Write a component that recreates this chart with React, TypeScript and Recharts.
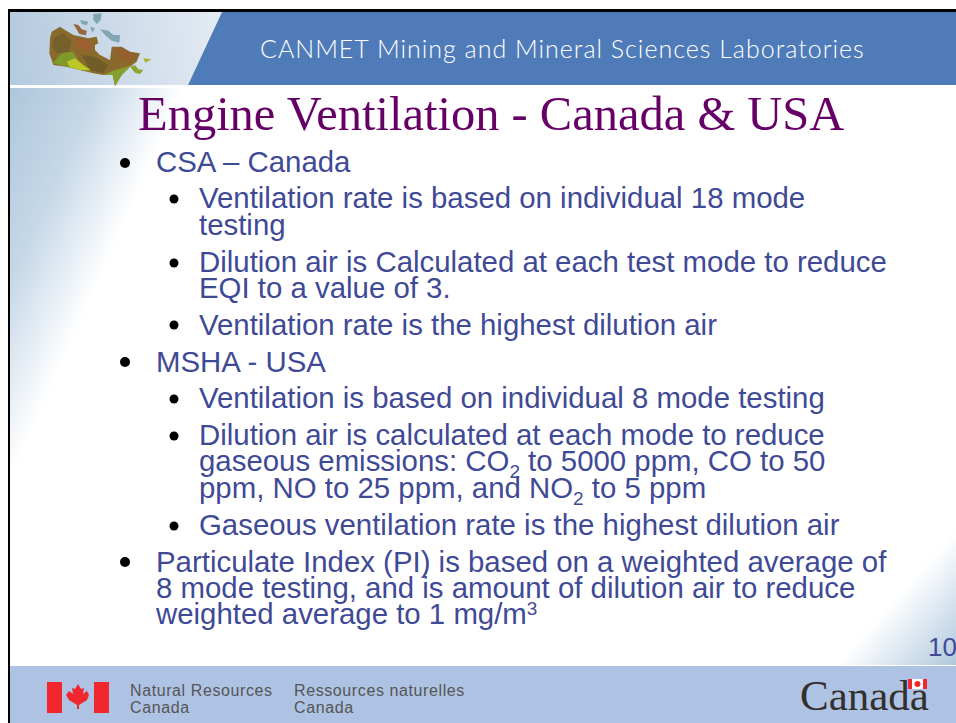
import { Dot, Polygon, Rectangle, Surface, Text } from "recharts";

const WIDTH = 956;
const HEIGHT = 723;

const HEADER_TITLE = "CANMET Mining and Mineral Sciences Laboratories";
const SLIDE_TITLE = "Engine Ventilation - Canada & USA";
const PAGE_NUMBER = "10";
const FOOTER_EN = ["Natural Resources", "Canada"];
const FOOTER_FR = ["Ressources naturelles", "Canada"];
const WORDMARK = "Canada";

type Run = { t: string; shift?: "sub" | "sup" };

const LEVEL_ONE = [
	{ bullet: 163, lines: [172], text: [[{ t: "CSA – Canada" }]] as Run[][] },
	{ bullet: 362, lines: [372], text: [[{ t: "MSHA - USA" }]] as Run[][] },
	{
		bullet: 562,
		lines: [572, 598, 624],
		text: [
			[{ t: "Particulate Index (PI) is based on a weighted average of" }],
			[{ t: "8 mode testing, and is amount of dilution air to reduce" }],
			[{ t: "weighted average to 1 mg/m" }, { t: "3", shift: "sup" }],
		] as Run[][],
	},
];

const LEVEL_TWO = [
	{
		bullet: 199,
		lines: [208, 235],
		text: [
			[{ t: "Ventilation rate is based on individual 18 mode" }],
			[{ t: "testing" }],
		] as Run[][],
	},
	{
		bullet: 263,
		lines: [272, 298],
		text: [
			[{ t: "Dilution air is Calculated at each test mode to reduce" }],
			[{ t: "EQI to a value of 3." }],
		] as Run[][],
	},
	{
		bullet: 325,
		lines: [335],
		text: [[{ t: "Ventilation rate is the highest dilution air" }]] as Run[][],
	},
	{
		bullet: 399,
		lines: [408],
		text: [[{ t: "Ventilation is based on individual 8 mode testing" }]] as Run[][],
	},
	{
		bullet: 436,
		lines: [445, 471, 498],
		text: [
			[{ t: "Dilution air is calculated at each mode to reduce" }],
			[
				{ t: "gaseous emissions: CO" },
				{ t: "2", shift: "sub" },
				{ t: " to 5000 ppm, CO to 50" },
			],
			[
				{ t: "ppm, NO to 25 ppm, and NO" },
				{ t: "2", shift: "sub" },
				{ t: " to 5 ppm" },
			],
		] as Run[][],
	},
	{
		bullet: 526,
		lines: [535],
		text: [[{ t: "Gaseous ventilation rate is the highest dilution air" }]] as Run[][],
	},
];

const pts = (list: number[][], k = 1, ox = 0, oy = 0) =>
	list.map(([x, y]) => ({ x: x * k + ox, y: y * k + oy }));
const mapPts = (list: number[][]) => pts(list, 1 / 3, 40, 10);

const MAP_MAIN = [
	[30, 85], [35, 65], [60, 50], [75, 60], [100, 75], [125, 80], [145, 85], [170, 80],
	[175, 100], [165, 105], [165, 120], [180, 135], [210, 150], [215, 110], [245, 110],
	[270, 125], [300, 130], [290, 155], [270, 170], [255, 185], [245, 195], [225, 228],
	[218, 195], [190, 195], [160, 190], [120, 180], [80, 170], [40, 165], [28, 130],
];
const MAP_DARK = [
	[40, 85], [70, 70], [95, 95], [85, 125], [50, 130], [36, 110],
];
const MAP_RUST = [
	[100, 85], [140, 90], [160, 100], [150, 120], [115, 115],
];
const MAP_RUST_EAST = [[220, 115], [245, 115], [290, 135], [270, 155], [235, 150]];
const MAP_DARK_SOUTH = [[125, 135], [165, 140], [205, 165], [190, 190], [150, 180]];
const MAP_GREEN = [
	[38, 160], [65, 130], [100, 125], [125, 170], [155, 185], [120, 180], [80, 170],
];
const MAP_LIME = [[80, 155], [105, 145], [130, 165], [152, 180], [120, 180], [90, 172]];
const MAP_ONTARIO = [
	[190, 195], [225, 180], [255, 172], [275, 165], [245, 195], [225, 228], [218, 195],
];
const MAP_BAFFIN = [[100, 42], [115, 45], [125, 58], [140, 62], [138, 76], [118, 72], [108, 55]];
const MAP_MARITIME = [[270, 170], [285, 165], [295, 178], [310, 180], [300, 192], [285, 188]];
const MAP_NEWFOUNDLAND = [[310, 145], [335, 148], [316, 158]];
const MAP_ARCTIC = [
	[[160, 12], [185, 10], [182, 30], [170, 42], [160, 30]],
	[[120, 30], [145, 35], [140, 46], [125, 42]],
	[[150, 50], [165, 55], [158, 68]],
	[[180, 58], [205, 62], [220, 75], [240, 75], [238, 98], [215, 92], [195, 75]],
];
const LEAF = [
	[78, 684], [81, 689], [84, 688], [83, 694], [87, 691], [89, 695], [87, 700],
	[79, 705], [79, 709], [77, 709], [77, 705], [69, 700], [66, 695], [69, 691],
	[73, 694], [72, 688], [75, 689],
];

const BODY = "#3f4a96";
const BODY_FONT = "'Liberation Sans', Arial, sans-serif";
const SERIF = "'Liberation Serif', 'Times New Roman', serif";

function Line({ x, y, runs }: { x: number; y: number; runs: Run[] }) {
	return (
		<text x={x} y={y} fill={BODY} fontFamily={BODY_FONT} fontSize={29.4} xmlSpace="preserve">
			{runs.map((r, i) => {
				if (!r.shift) {
					const prev = runs[i - 1]?.shift;
					const back = prev === "sub" ? -7 : prev === "sup" ? 9 : 0;
					return (
						<tspan key={i} dy={back}>
							{r.t}
						</tspan>
					);
				}
				return (
					<tspan key={i} fontSize={19} dy={r.shift === "sub" ? 7 : -9}>
						{r.t}
					</tspan>
				);
			})}
		</text>
	);
}

export default function App() {
	return (
		<div style={{ position: "absolute", left: 0, top: 0, width: WIDTH, height: HEIGHT, background: "#fff" }}>
			<Surface width={WIDTH} height={HEIGHT} viewBox={{ x: 0, y: 0, width: WIDTH, height: HEIGHT }}>
				<defs>
					<linearGradient id="leftFade" gradientUnits="userSpaceOnUse" x1={10} y1={88} x2={156} y2={153}>
						<stop offset="0" stopColor="#aec6dc" />
						<stop offset="0.5" stopColor="#c6d8e8" />
						<stop offset="1" stopColor="#ffffff" />
					</linearGradient>
					<linearGradient id="headFade" gradientUnits="userSpaceOnUse" x1={10} y1={60} x2={222} y2={30}>
						<stop offset="0" stopColor="#b4cadf" />
						<stop offset="1" stopColor="#e4ebf3" />
					</linearGradient>
					<linearGradient id="cornerFade" gradientUnits="userSpaceOnUse" x1={956} y1={665} x2={889} y2={605}>
						<stop offset="0" stopColor="#b0c8de" />
						<stop offset="1" stopColor="#ffffff" />
					</linearGradient>
				</defs>

				{/* slide frame and backgrounds */}
				<Rectangle x={8} y={9} width={948} height={714} fill="#000" />
				<Rectangle x={10} y={12} width={946} height={711} fill="#fff" />
				<Rectangle x={10} y={88} width={300} height={577} fill="url(#leftFade)" />
				<Rectangle x={700} y={450} width={256} height={215} fill="url(#cornerFade)" />
				<Polygon points={pts([[10, 12], [222, 12], [188, 85], [10, 85]])} fill="url(#headFade)" stroke="none" />
				<Polygon points={pts([[222, 12], [956, 12], [956, 85], [188, 85]])} fill="#4f7cb9" stroke="none" />
				<Rectangle x={10} y={85} width={946} height={3} fill="#fff" />

				{/* map of Canada */}
				<Polygon points={mapPts(MAP_MAIN)} fill="#8a6a2c" stroke="none" />
				<Polygon points={mapPts(MAP_DARK)} fill="#75602c" stroke="none" />
				<Polygon points={mapPts(MAP_RUST)} fill="#9c6030" stroke="none" />
				<Polygon points={mapPts(MAP_RUST_EAST)} fill="#94602e" stroke="none" />
				<Polygon points={mapPts(MAP_DARK_SOUTH)} fill="#6f5c28" stroke="none" />
				<Polygon points={mapPts(MAP_GREEN)} fill="#7f9a2a" stroke="none" />
				<Polygon points={mapPts(MAP_LIME)} fill="#bcc826" stroke="none" />
				<Polygon points={mapPts(MAP_ONTARIO)} fill="#86a02c" stroke="none" />
				<Polygon points={mapPts(MAP_BAFFIN)} fill="#96663a" stroke="none" />
				<Polygon points={mapPts(MAP_MARITIME)} fill="#8aa62c" stroke="none" />
				<Polygon points={mapPts(MAP_NEWFOUNDLAND)} fill="#a8b02e" stroke="none" />
				{MAP_ARCTIC.map((island, i) => (
					<Polygon key={i} points={mapPts(island)} fill="#7fa6b2" stroke="none" />
				))}

				<Text x={260} y={58} fill="#fff" fontFamily="Lato, sans-serif" fontWeight={300} fontSize={25} letterSpacing={1}>
					{HEADER_TITLE}
				</Text>
				<Text x={138} y={130} fill="#660066" fontFamily={SERIF} fontSize={48.5}>
					{SLIDE_TITLE}
				</Text>

				{LEVEL_ONE.map((item, i) => (
					<g key={i}>
						<Dot cx={125} cy={item.bullet} r={5} fill="#000" />
						{item.text.map((runs, j) => (
							<Line key={j} x={156} y={item.lines[j]} runs={runs} />
						))}
					</g>
				))}
				{LEVEL_TWO.map((item, i) => (
					<g key={i}>
						<Dot cx={174} cy={item.bullet} r={4.5} fill="#000" />
						{item.text.map((runs, j) => (
							<Line key={j} x={199} y={item.lines[j]} runs={runs} />
						))}
					</g>
				))}

				<Text x={928} y={656} fill={BODY} fontFamily={BODY_FONT} fontSize={26}>
					{PAGE_NUMBER}
				</Text>

				{/* footer */}
				<Rectangle x={10} y={666} width={946} height={57} fill="#aec3e3" />
				<Rectangle x={47} y={682} width={15} height={31} fill="#f0282e" />
				<Rectangle x={94} y={682} width={15} height={31} fill="#f0282e" />
				<Polygon points={pts(LEAF)} fill="#f0282e" stroke="none" />
				{FOOTER_EN.map((line, i) => (
					<Text key={i} x={130} y={696 + i * 17} fill="#555" fontFamily={BODY_FONT} fontSize={16} letterSpacing={0.6}>
						{line}
					</Text>
				))}
				{FOOTER_FR.map((line, i) => (
					<Text key={i} x={294} y={696 + i * 17} fill="#555" fontFamily={BODY_FONT} fontSize={16} letterSpacing={0.6}>
						{line}
					</Text>
				))}
				<Text x={800} y={710} fill="#33302e" fontFamily={SERIF} fontSize={43}>
					{WORDMARK}
				</Text>
				<Rectangle x={908} y={679} width={19} height={10} fill="#f0282e" />
				<Rectangle x={912} y={679} width={11} height={10} fill="#fff" />
				<Dot cx={917.5} cy={684} r={3} fill="#f0282e" />
			</Surface>
		</div>
	);
}
